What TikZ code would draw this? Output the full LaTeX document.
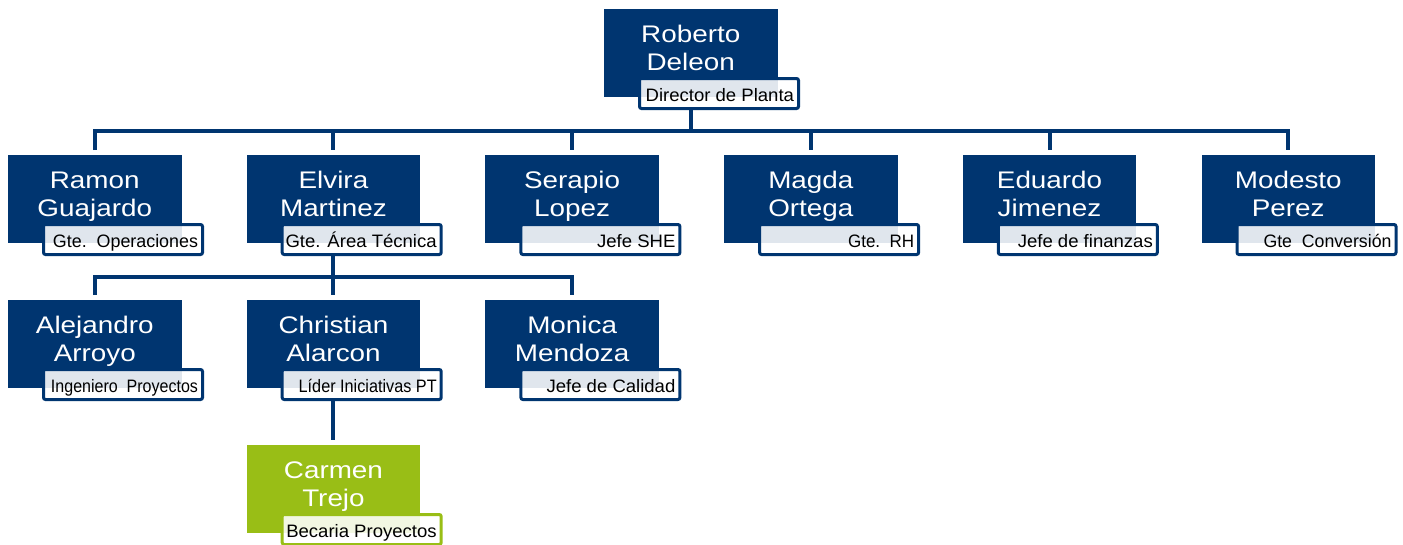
\documentclass[tikz,border=0pt]{standalone}
\usepackage{fontspec}
\usepackage{graphicx}
\newfontfamily\namefont[FakeStretch=1.16]{Liberation Sans}
\newfontfamily\labfont[FakeStretch=1.03]{Liberation Sans}
\definecolor{navy}{RGB}{0,53,112}
\definecolor{lime}{RGB}{153,190,22}
\newcommand\twolines[2]{\begin{tabular}[t]{@{}c@{}}#1\\#2\end{tabular}}
\newcommand\roletext[1]{\makebox[150pt][r]{#1}}
\newcommand\fitrole[2]{\makebox[150pt][r]{\resizebox{#1}{\height}{#2}}}
\tikzset{
  personbox/.style={fill=#1, text=white, minimum width=173.5pt, minimum height=87.5pt,
    inner sep=0pt, outer sep=0pt, anchor=north west,
    font=\namefont\fontsize{24}{28}\selectfont, text height=19pt, text depth=40.5pt},
  rolebox/.style={draw=#1, line width=3pt, fill=white, fill opacity=0.88, text opacity=1,
    text=black, rounded corners=2pt, minimum width=159pt, minimum height=30pt,
    inner xsep=4.5pt, inner ysep=0pt, anchor=north west,
    font=\labfont\fontsize{18}{20}\selectfont, text height=16pt, text depth=1pt},
  conn/.style={draw=navy, line width=4pt},
}
\begin{document}
\begin{tikzpicture}[x=1pt,y=-1pt]
\useasboundingbox (0,0) rectangle (1403,544);
% level 1
\node[personbox=navy] (roberto) at (604,9) {\twolines{Roberto}{Deleon}};
\node[rolebox=navy] (robertor) at (638,77) {\roletext{Director de Planta}};
% level 2
\node[personbox=navy] (ramon) at (8,155) {\twolines{Ramon}{Guajardo}};
\node[rolebox=navy] (ramonr) at (42,223) {\fitrole{145pt}{Gte.~~Operaciones}};
\node[personbox=navy] (elvira) at (246.7,155) {\twolines{Elvira}{Martinez}};
\node[rolebox=navy] (elvirar) at (280.7,223) {\roletext{Gte. Área Técnica}};
\node[personbox=navy] (serapio) at (485.4,155) {\twolines{Serapio}{Lopez}};
\node[rolebox=navy] (serapior) at (519.4,223) {\roletext{Jefe SHE}};
\node[personbox=navy] (magda) at (724.1,155) {\twolines{Magda}{Ortega}};
\node[rolebox=navy] (magdar) at (758.1,223) {\fitrole{66pt}{Gte.~~RH}};
\node[personbox=navy] (eduardo) at (962.8,155) {\twolines{Eduardo}{Jimenez}};
\node[rolebox=navy] (eduardor) at (996.8,223) {\roletext{Jefe de finanzas}};
\node[personbox=navy] (modesto) at (1201.5,155) {\twolines{Modesto}{Perez}};
\node[rolebox=navy] (modestor) at (1235.5,223) {\fitrole{128pt}{Gte~~Conversión}};
% level 3
\node[personbox=navy] (alejandro) at (8,300) {\twolines{Alejandro}{Arroyo}};
\node[rolebox=navy] (alejandror) at (42,368) {\fitrole{147pt}{Ingeniero~~Proyectos}};
\node[personbox=navy] (christian) at (246.7,300) {\twolines{Christian}{Alarcon}};
\node[rolebox=navy] (christianr) at (280.7,368) {\fitrole{138pt}{Líder Iniciativas PT}};
\node[personbox=navy] (monica) at (485.4,300) {\twolines{Monica}{Mendoza}};
\node[rolebox=navy] (monicar) at (519.4,368) {\roletext{Jefe de Calidad}};
% level 4
\node[personbox=lime] (carmen) at (246.7,445) {\twolines{Carmen}{Trejo}};
\node[rolebox=lime] (carmenr) at (280.7,513) {\roletext{Becaria Proyectos}};
% connectors
\coordinate (bus1) at (0,131);
\coordinate (bus2) at (0,277);
\draw[conn] (roberto.south |- robertor.south) -- (roberto.south |- bus1);
\draw[conn, shorten <=5pt, shorten >=5pt] (ramon.north) -- (ramon.north |- bus1)
  -- (modesto.north |- bus1) -- (modesto.north);
\foreach \n in {elvira,serapio,magda,eduardo}
  \draw[conn, shorten >=5pt] (\n.north |- bus1) -- (\n.north);
\draw[conn, shorten <=5pt, shorten >=5pt] (alejandro.north) -- (alejandro.north |- bus2)
  -- (monica.north |- bus2) -- (monica.north);
\draw[conn, shorten >=5pt] (elvira.south |- elvirar.south) -- (christian.north);
\draw[conn, shorten >=5pt] (christian.south |- christianr.south) -- (carmen.north);
\end{tikzpicture}
\end{document}
